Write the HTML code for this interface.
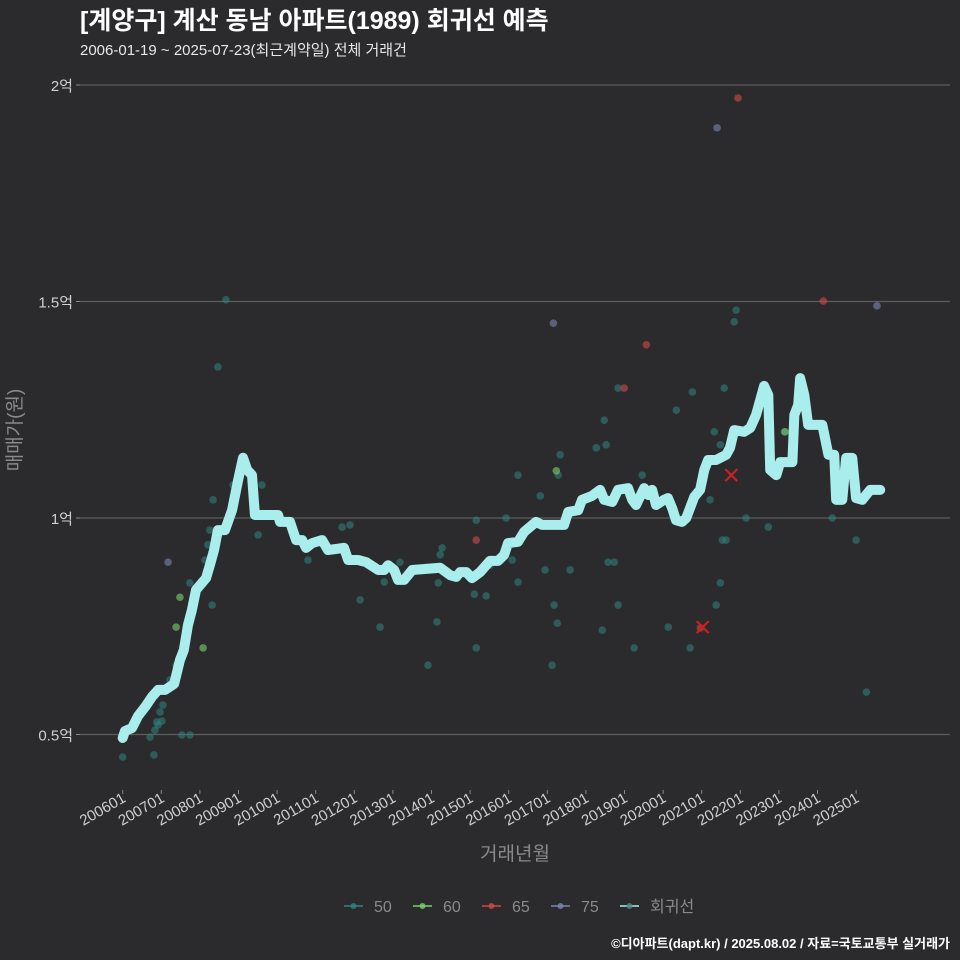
<!DOCTYPE html>
<html><head><meta charset="utf-8">
<style>
html,body{margin:0;padding:0;background:#2b2b2d;}
svg{display:block;font-family:"Liberation Sans","Noto Sans CJK KR",sans-serif;}
</style></head>
<body>
<svg id="chart" width="960" height="960" viewBox="0 0 960 960" xmlns="http://www.w3.org/2000/svg">
<rect x="0" y="0" width="960" height="960" fill="#2b2b2d"/>
<text x="80" y="29" fill="#ffffff" font-size="25" font-weight="bold">[계양구] 계산 동남 아파트(1989) 회귀선 예측</text>
<text x="80" y="55" fill="#e8e8e8" font-size="15">2006-01-19 ~ 2025-07-23(최근계약일) 전체 거래건</text>
<g id="grid"></g>
<g id="yaxis"></g>
<g id="xaxis"></g>
<g id="points"></g>
<g id="line"></g>
<g id="marks"></g>
<text x="21" y="430" fill="#8a8a8a" font-size="19" text-anchor="middle" transform="rotate(-90 21 430)">매매가(원)</text>
<text x="515" y="860" fill="#8a8a8a" font-size="19" text-anchor="middle">거래년월</text>
<g id="legend"></g>
<text x="950" y="948" fill="#ffffff" font-size="13" font-weight="bold" text-anchor="end">©디아파트(dapt.kr) / 2025.08.02 / 자료=국토교통부 실거래가</text>
</svg>
<script>
// months since 2006-01, price in 만원
const lineMonths=[0,0.7,2.9,4.8,7.2,9.1,11,13.2,16,17.8,19,20.3,21.5,22.8,25.9,27.1,28.4,29.6,31.8,34,35.9,37.4,38.7,40.2,41.1,48.3,48.9,52,53.9,55.8,57,58.9,62,63.8,68.8,70.1,73.2,75.7,79.4,81.3,82.5,84.4,85.6,87.5,90,98.7,101.8,103.7,104.9,106.8,108.6,111.1,114.2,116.7,118.6,119.8,122.9,124.8,128.5,130.4,137.2,138.5,141.6,142.8,145.9,148.4,149.7,152.2,154,157.1,158.4,159.6,162.1,163.4,164.6,165.8,168.3,169.5,170.8,172,173.9,175.2,177.7,179.5,180.8,182,184.5,187.6,188.8,190.1,193.2,195.1,196.9,199.4,200.7,201.3,203.2,204.4,208.2,208.8,210,210.6,211.9,213.1,217.5,219.4,221.2,221.8,223.7,224.9,226.8,228,229.9,232.4,235.5];
const linePrices=[4920,5080,5150,5430,5660,5870,6030,6030,6170,6720,6950,7530,7870,8340,8610,8910,9260,9720,9720,10180,10880,11390,11110,10990,10070,10070,9910,9910,9490,9490,9310,9420,9490,9260,9310,9030,9030,8980,8800,8800,8910,8800,8570,8570,8800,8850,8680,8640,8750,8750,8610,8750,9010,9010,9150,9420,9450,9680,9910,9840,9840,10140,10180,10420,10510,10650,10420,10370,10650,10690,10420,10300,10690,10530,10650,10300,10420,10460,10230,9950,9910,10000,10490,10650,11110,11340,11340,11460,11620,12030,11990,12080,12380,13050,12840,11110,10990,11290,11290,12380,12610,13230,12840,12150,12150,11460,11460,10420,10420,11390,11390,10460,10420,10650,10650];
const m50=[0,9.7,10,10.6,11.6,11,12.2,8.5,12.5,14.7,16.6,18.4,20.9,20.9,25.6,26.5,27.1,27.8,29.6,32.1,28.1,34.3,42.1,43.3,57.6,68.2,70.7,73.8,80,81.3,86.2,94.9,97.7,98.7,99.3,98.1,109.9,109.9,109.3,113,114.2,119.2,121.1,122.9,122.9,129.8,131.3,133.5,134.1,135.1,135.4,136,139.1,147.2,149.1,149.7,150.3,150.9,152.8,154,154,159,161.5,169.6,172.1,176.4,177.1,182.6,183.9,184.5,185.8,185.8,186.4,187.6,187,190.1,190.7,193.8,200.7,205.7,220.6,228,231.2];
const p50=[4480,4530,5100,5290,5520,5220,5310,4940,5680,6260,6600,4990,4990,8500,9030,9380,9720,7990,13490,15040,10420,10760,9610,10760,9030,9790,9840,8110,7480,8520,8980,6600,7600,9150,9310,8500,9950,7000,8240,8200,8910,10000,9030,8520,10990,10510,8800,6600,7990,7570,10990,11460,8800,11620,7410,12260,11690,8980,8980,7990,13000,7000,10990,7480,12490,7000,12910,10420,11990,7990,8500,11690,9490,9490,13000,14530,14800,10000,9790,11990,10000,9490,5980];
const m60=[17.8,16.6,25,134.8,205.9];
const p60=[8170,7480,7000,11090,11990];
const m65=[109.9,162.8,155.9,179.6,191.3,217.8];
const p65=[9490,14000,13000,7460,19700,15010];
const m75=[14.1,133.9,184.8,234.5];
const p75=[8980,14500,19010,14900];
const markMonths=[180.3,189.2];
const markPrices=[7480,10990];
const yTicks=[5000,10000,15000,20000];
const yTickLabels=["0.5억","1억","1.5억","2억"];
const xTickLabels=["200601","200701","200801","200901","201001","201101","201201","201301","201401","201501","201601","201701","201801","201901","202001","202101","202201","202301","202401","202501"];

const NS="http://www.w3.org/2000/svg";
const X=m=>122.7+m*38.6/12;
const Y=p=>518-(p-10000)/10000*433;
function mk(tag,attrs,parent){const e=document.createElementNS(NS,tag);for(const k in attrs)e.setAttribute(k,attrs[k]);parent.appendChild(e);return e;}
const grid=document.getElementById('grid'),ya=document.getElementById('yaxis'),xa=document.getElementById('xaxis');
yTicks.forEach((v,i)=>{
  const g=mk('line',{x1:80,x2:950,y1:Y(v),y2:Y(v),stroke:'#5e5e5e','stroke-width':1.3},grid);
  
  
  const tk=mk('line',{x1:76,x2:80,y1:Y(v),y2:Y(v),stroke:'#888','stroke-width':1},ya);
  
  
  const t=mk('text',{x:73,y:Y(v)+6,fill:'#d0d0d0','font-size':15,'text-anchor':'end'},ya);
  t.textContent=yTickLabels[i];
  
  
});
xTickLabels.forEach((l,i)=>{
  const x=X(i*12);
  const tk=mk('line',{x1:x,x2:x,y1:790,y2:794,stroke:'#888','stroke-width':1},xa);
  
  
  const t=mk('text',{x:x+4,y:801,fill:'#d0d0d0','font-size':15,'text-anchor':'end',transform:`rotate(-30 ${x+4} 801)`},xa);
  t.textContent=l;
  
  
});
const pts=document.getElementById('points');
function series(ms,ps,col,op,name){ms.forEach((m,i)=>{
  const c=mk('circle',{cx:X(m),cy:Y(ps[i]),r:3.8,fill:col,'fill-opacity':op},pts);
  
  
});}
series(m50,p50,'#2f8580',0.55,'point-50');
series(m60,p60,'#7ad06a',0.6,'point-60');
series(m65,p65,'#d04848',0.6,'point-65');
series(m75,p75,'#7a86b0',0.6,'point-75');
const lg=document.getElementById('line');
const path=mk('polyline',{points:lineMonths.map((m,i)=>X(m)+','+Y(linePrices[i])).join(' '),fill:'none',stroke:'#a9eeec','stroke-width':10,'stroke-linejoin':'round','stroke-linecap':'round'},lg);


const mg=document.getElementById('marks');
markMonths.forEach((m,i)=>{
  const x=X(m),y=Y(markPrices[i]);
  const p=mk('path',{d:`M${x-6},${y-6}L${x+6},${y+6}M${x-6},${y+6}L${x+6},${y-6}`,stroke:'#d02020','stroke-width':2},mg);
  
  
});
const leg=document.getElementById('legend');
const legNames=["50","60","65","75","회귀선"];
const legColors=['#2f8580','#7ad06a','#d04848','#7a86b0','#a9eeec'];
const legX=[344,413,482,551,620];
legNames.forEach((n,i)=>{
  const g=mk('g',{},leg);
  
  
  mk('line',{x1:legX[i],x2:legX[i]+19,y1:906,y2:906,stroke:legColors[i],'stroke-width':1.5},g);
  mk('circle',{cx:legX[i]+9.5,cy:906,r:3,fill:i==4?'#4a8a88':legColors[i],'fill-opacity':0.8},g);
  const t=mk('text',{x:legX[i]+30,y:912,fill:'#8a8a8a','font-size':16},g);
  t.textContent=n;
});
</script>
</body></html>
